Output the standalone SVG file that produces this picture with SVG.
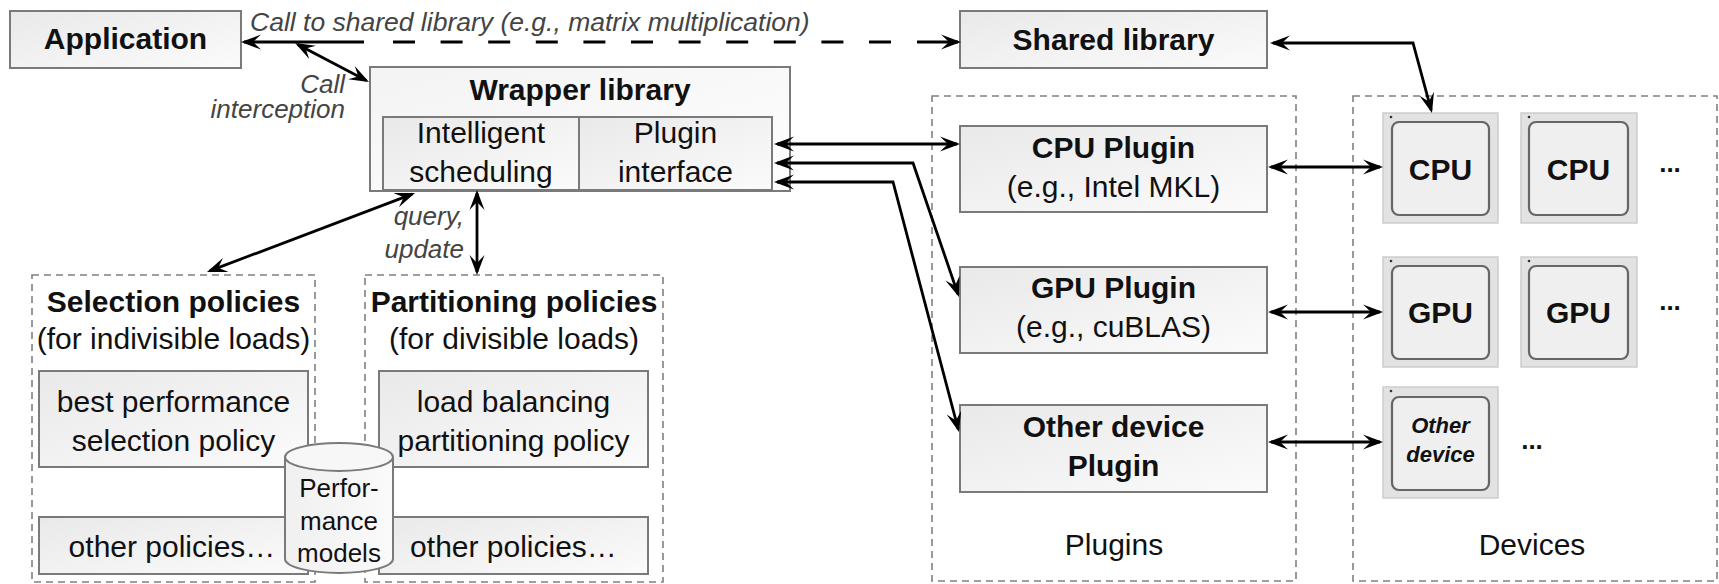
<svg xmlns="http://www.w3.org/2000/svg" width="1719" height="584" viewBox="0 0 1719 584">
  <defs>
    <linearGradient id="boxFill" x1="0" y1="0" x2="1" y2="1">
      <stop offset="0" stop-color="#e9e9e9"/>
      <stop offset="1" stop-color="#fbfbfb"/>
    </linearGradient>
    <linearGradient id="outerFill" x1="0" y1="0" x2="1" y2="1">
      <stop offset="0" stop-color="#f3f3f3"/>
      <stop offset="1" stop-color="#fefefe"/>
    </linearGradient>
    <linearGradient id="cylFill" x1="0" y1="0" x2="1" y2="0">
      <stop offset="0" stop-color="#f0f0f0"/>
      <stop offset="1" stop-color="#fafafa"/>
    </linearGradient>
    <marker id="ah" viewBox="0 0 22 16" refX="17" refY="8" markerWidth="22" markerHeight="16" markerUnits="userSpaceOnUse" orient="auto-start-reverse">
      <path d="M20,8 L0,0.5 L8,8 L0,15.5 Z" fill="#000"/>
    </marker>
    <style>
      .box { fill: url(#boxFill); stroke: #7a7a7a; stroke-width: 2; }
      .outer { fill: url(#outerFill); stroke: #7a7a7a; stroke-width: 2; }
      .group { fill: none; stroke: #808080; stroke-width: 1.6; stroke-dasharray: 7 5; }
      .dev { fill: #e2e2e2; stroke: #cdcdcd; stroke-width: 1.5; }
      .chip { fill: #efefef; stroke: #666; stroke-width: 2.2; }
      .t { font-family: "Liberation Sans", Arial, Helvetica, sans-serif; font-size: 30px; fill: #111; text-anchor: middle; }
      .b { font-weight: bold; }
      .lbl { font-style: italic; font-size: 26px; fill: #444; }
      .small { font-size: 26px; }
      .conn { fill: none; stroke: #000; stroke-width: 2.8; }
    </style>
  </defs>

  <!-- dashed grouping frames -->
  <g id="selection-group">
    <rect class="group" x="32" y="275" width="283" height="307"/>
    <text class="t b" x="173.5" y="312">Selection policies</text>
    <text class="t" x="173.5" y="349">(for indivisible loads)</text>
  </g>
  <g id="partitioning-group">
    <rect class="group" x="365" y="275" width="298" height="307"/>
    <text class="t b" x="514" y="312">Partitioning policies</text>
    <text class="t" x="514" y="349">(for divisible loads)</text>
  </g>
  <g id="plugins-group">
    <rect class="group" x="932" y="96" width="364" height="485"/>
    <text class="t" x="1114" y="555">Plugins</text>
  </g>
  <g id="devices-group">
    <rect class="group" x="1353" y="96" width="364" height="485"/>
    <text class="t" x="1532" y="555">Devices</text>
  </g>

  <g id="application">
    <rect class="box" x="10" y="11" width="231" height="57"/>
    <text class="t b" x="125.5" y="49">Application</text>
  </g>

  <g id="shared-library">
    <rect class="box" x="960" y="11" width="307" height="57"/>
    <text class="t b" x="1113.5" y="50">Shared library</text>
  </g>

  <g id="wrapper-library">
    <rect class="outer" x="370" y="67" width="420" height="124"/>
    <text class="t b" x="580" y="100">Wrapper library</text>
    <rect class="box" x="383" y="117" width="196" height="73"/>
    <rect class="box" x="579" y="117" width="193" height="73"/>
    <text class="t" x="481" y="143">Intelligent</text>
    <text class="t" x="481" y="182">scheduling</text>
    <text class="t" x="675.5" y="143">Plugin</text>
    <text class="t" x="675.5" y="182">interface</text>
  </g>

  <g id="best-performance-policy">
    <rect class="box" x="39" y="371" width="269" height="96"/>
    <text class="t" x="173.5" y="412">best performance</text>
    <text class="t" x="173.5" y="451">selection policy</text>
  </g>
  <g id="other-selection-policies">
    <rect class="box" x="39" y="517" width="269" height="57"/>
    <text class="t" x="172" y="557">other policies…</text>
  </g>
  <g id="load-balancing-policy">
    <rect class="box" x="379" y="371" width="269" height="96"/>
    <text class="t" x="513.5" y="412">load balancing</text>
    <text class="t" x="513.5" y="451">partitioning policy</text>
  </g>
  <g id="other-partitioning-policies">
    <rect class="box" x="379" y="517" width="269" height="57"/>
    <text class="t" x="513.5" y="557">other policies…</text>
  </g>

  <g id="performance-models">
    <path d="M285,457 L285,559 A54,14 0 0 0 393,559 L393,457" fill="url(#cylFill)" stroke="#7a7a7a" stroke-width="2"/>
    <ellipse cx="339" cy="457" rx="54" ry="14" fill="#f7f7f7" stroke="#7a7a7a" stroke-width="2"/>
    <text class="t small" x="339" y="497">Perfor-</text>
    <text class="t small" x="339" y="530">mance</text>
    <text class="t small" x="339" y="562">models</text>
  </g>

  <g id="cpu-plugin">
    <rect class="box" x="960" y="126" width="307" height="86"/>
    <text class="t b" x="1113.5" y="158">CPU Plugin</text>
    <text class="t" x="1113.5" y="197">(e.g., Intel MKL)</text>
  </g>
  <g id="gpu-plugin">
    <rect class="box" x="960" y="267" width="307" height="86"/>
    <text class="t b" x="1113.5" y="298">GPU Plugin</text>
    <text class="t" x="1113.5" y="337">(e.g., cuBLAS)</text>
  </g>
  <g id="other-plugin">
    <rect class="box" x="960" y="405" width="307" height="87"/>
    <text class="t b" x="1113.5" y="437">Other device</text>
    <text class="t b" x="1113.5" y="476">Plugin</text>
  </g>

  <g id="cpu-1">
    <rect class="dev" x="1383" y="113" width="115" height="110"/>
    <circle cx="1391" cy="117" r="1.3" fill="#333"/>
    <rect class="chip" x="1392" y="122" width="97" height="93" rx="7"/>
    <text class="t b" x="1440.5" y="180">CPU</text>
  </g>
  <g id="cpu-2">
    <rect class="dev" x="1521" y="113" width="116" height="110"/>
    <circle cx="1529" cy="117" r="1.3" fill="#333"/>
    <rect class="chip" x="1529" y="122" width="99" height="93" rx="7"/>
    <text class="t b" x="1578.5" y="180">CPU</text>
  </g>
  <g id="cpu-more">
    <text class="t b small" x="1670" y="172">...</text>
  </g>
  <g id="gpu-1">
    <rect class="dev" x="1383" y="257" width="115" height="110"/>
    <circle cx="1391" cy="261" r="1.3" fill="#333"/>
    <rect class="chip" x="1392" y="266" width="97" height="93" rx="7"/>
    <text class="t b" x="1440.5" y="323">GPU</text>
  </g>
  <g id="gpu-2">
    <rect class="dev" x="1521" y="257" width="116" height="110"/>
    <circle cx="1529" cy="261" r="1.3" fill="#333"/>
    <rect class="chip" x="1529" y="266" width="99" height="93" rx="7"/>
    <text class="t b" x="1578.5" y="323">GPU</text>
  </g>
  <g id="gpu-more">
    <text class="t b small" x="1670" y="310">...</text>
  </g>
  <g id="other-device">
    <rect class="dev" x="1383" y="387" width="115" height="111"/>
    <circle cx="1391" cy="391" r="1.3" fill="#333"/>
    <rect class="chip" x="1392" y="397" width="97" height="93" rx="7"/>
    <text class="t b" x="1440.5" y="433" style="font-style:italic;font-size:22px">Other</text>
    <text class="t b" x="1440.5" y="462" style="font-style:italic;font-size:22px">device</text>
  </g>
  <g id="other-more">
    <text class="t b small" x="1532" y="449">...</text>
  </g>

  <!-- connectors, drawn over the nodes so heads inside the wrapper stay visible -->
  <g id="connectors">
    <path class="conn" d="M244,42 L364,42" marker-start="url(#ah)"/>
    <path class="conn" d="M393,42 L915,42" stroke-dasharray="22 25.6"/>
    <path class="conn" d="M917,42 L958,42" marker-end="url(#ah)"/>
    <path class="conn" d="M297.7,44.4 L366.3,80.6" marker-start="url(#ah)" marker-end="url(#ah)"/>
    <path class="conn" d="M1273,43 L1413,43 L1431.2,110.1" marker-start="url(#ah)" marker-end="url(#ah)"/>
    <path class="conn" d="M777,144 L957,144" marker-start="url(#ah)" marker-end="url(#ah)"/>
    <path class="conn" d="M777,163 L913,163 L958,294.2" marker-start="url(#ah)" marker-end="url(#ah)"/>
    <path class="conn" d="M777,182 L893,182 L958.2,429.1" marker-start="url(#ah)" marker-end="url(#ah)"/>
    <path class="conn" d="M1271,167 L1380,167" marker-start="url(#ah)" marker-end="url(#ah)"/>
    <path class="conn" d="M1271,312 L1380,312" marker-start="url(#ah)" marker-end="url(#ah)"/>
    <path class="conn" d="M1271,442 L1380,442" marker-start="url(#ah)" marker-end="url(#ah)"/>
    <path class="conn" d="M412.2,194.1 L209.8,270.9" marker-start="url(#ah)" marker-end="url(#ah)"/>
    <path class="conn" d="M477,193 L477,272" marker-start="url(#ah)" marker-end="url(#ah)"/>
    <text class="t lbl" x="250" y="31" style="text-anchor:start;font-size:26.5px">Call to shared library (e.g., matrix multiplication)</text>
    <text class="t lbl" x="345" y="93" style="text-anchor:end">Call</text>
    <text class="t lbl" x="345" y="118" style="text-anchor:end">interception</text>
    <text class="t lbl" x="464" y="225" style="text-anchor:end">query,</text>
    <text class="t lbl" x="464" y="258" style="text-anchor:end">update</text>
  </g>
</svg>
